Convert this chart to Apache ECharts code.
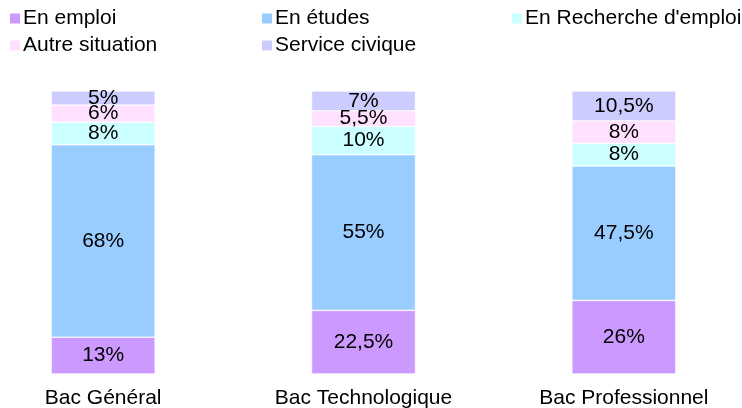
<!DOCTYPE html>
<html>
<head>
<meta charset="utf-8">
<script src="https://cdn.jsdelivr.net/npm/echarts@6/dist/echarts.min.js"></script>
<style>
  html, body { margin: 0; padding: 0; background: #fff; }
  #chart { width: 742px; height: 408px; }
</style>
</head>
<body>
<div id="chart"></div>
<script>
const categories = ['Bac Général', 'Bac Technologique', 'Bac Professionnel']
const seriesNames = ['En emploi', 'En études', "En Recherche d'emploi", 'Autre situation', 'Service civique']
const enEmploi = [13, 22.5, 26]
const enEtudes = [68, 55, 47.5]
const enRecherche = [8, 10, 8]
const autreSituation = [6, 5.5, 8]
const serviceCivique = [5, 7, 10.5]
const colors = ['#cc99ff', '#99ccff', '#ccffff', '#ffe0ff', '#ccccff']

const values = [enEmploi, enEtudes, enRecherche, autreSituation, serviceCivique]
const font = 'Liberation Sans, Arial, sans-serif'

// one legend per item so each sits where the original put it
const legendPos = [
  { left: 10, top: 8 },
  { left: 262, top: 8 },
  { left: 512, top: 8 },
  { left: 10, top: 35 },
  { left: 262, top: 35 },
]

const chart = echarts.init(document.getElementById('chart'))
chart.setOption({
  animation: false,
  color: colors,
  legend: seriesNames.map((name, i) => ({
    data: [name],
    left: legendPos[i].left,
    top: legendPos[i].top,
    padding: 0,
    icon: 'rect',
    itemWidth: 10,
    itemHeight: 10,
    itemGap: 0,
    itemStyle: { borderWidth: 0 },
    selectedMode: false,
    textStyle: { fontFamily: font, fontSize: 21, color: '#000', padding: [0, 0, 0, -2] },
  })),
  grid: { left: -27, right: -12, top: 91, bottom: 34, outerBoundsMode: 'none' },
  xAxis: {
    type: 'category',
    data: categories,
    axisLine: { show: false },
    axisTick: { show: false },
    axisLabel: { fontFamily: font, fontSize: 21, color: '#000', margin: 14 },
  },
  yAxis: {
    type: 'value',
    min: 0,
    max: 100,
    show: false,
  },
  series: seriesNames.map((name, i) => ({
    name,
    type: 'bar',
    stack: 'total',
    barWidth: 104,
    data: values[i],
    itemStyle: { borderColor: '#fff', borderWidth: 0.6 },
    label: {
      show: true,
      position: 'inside',
      fontFamily: font,
      fontSize: 21,
      color: '#000',
      formatter: p => String(p.value).replace('.', ',') + '%',
    },
  })),
})
</script>
</body>
</html>
